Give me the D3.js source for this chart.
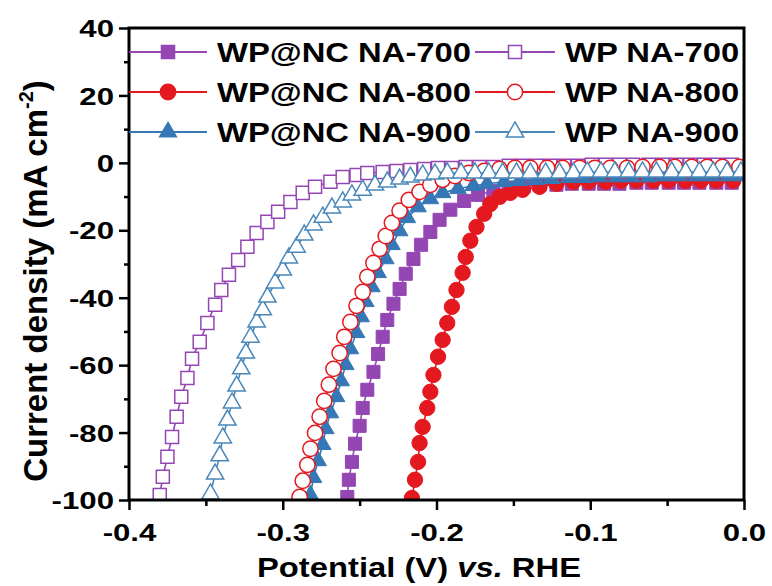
<!DOCTYPE html>
<html><head><meta charset="utf-8">
<script src="https://cdn.jsdelivr.net/npm/d3@7"></script>
<style>
body{margin:0;background:#fff}
text{font-family:"Liberation Sans",Arial,Helvetica,sans-serif;font-weight:bold;fill:#000}
</style>
</head><body>
<svg id="c" width="772" height="586"></svg>
<script>
// ---- data (Potential V vs. RHE, current density mA cm^-2) ----
const seriesNames = ["WP@NC NA-700","WP@NC NA-800","WP@NC NA-900","WP NA-700","WP NA-800","WP NA-900"];

const vWPNC700 = [-0.258,-0.257,-0.255,-0.253,-0.250,-0.248,-0.245,-0.241,-0.238,-0.235,-0.232,-0.228,-0.224,-0.220,-0.215,-0.210,-0.204,-0.198,-0.191,-0.182,-0.173,-0.163,-0.153,-0.143,-0.133,-0.122,-0.112,-0.101,-0.091,-0.081,-0.070,-0.060,-0.049,-0.039,-0.029,-0.018,-0.008];
const jWPNC700 = [-99.1,-94.0,-88.7,-83.3,-78.0,-72.7,-67.3,-62.0,-56.7,-51.6,-46.6,-41.8,-37.4,-32.9,-28.5,-24.3,-20.5,-16.9,-13.9,-11.3,-9.5,-8.3,-7.4,-6.8,-6.5,-6.5,-6.2,-6.2,-6.2,-6.2,-5.9,-5.9,-5.9,-5.9,-5.9,-5.9,-5.9];

const vWPNC800 = [-0.216,-0.214,-0.212,-0.211,-0.209,-0.206,-0.204,-0.202,-0.199,-0.196,-0.193,-0.190,-0.187,-0.183,-0.181,-0.178,-0.174,-0.169,-0.165,-0.159,-0.152,-0.144,-0.133,-0.122,-0.111,-0.101,-0.090,-0.080,-0.070,-0.059,-0.049,-0.038,-0.028,-0.018,-0.007];
const jWPNC800 = [-99.4,-94.0,-88.7,-83.1,-78.3,-72.7,-67.9,-62.9,-57.5,-52.5,-47.5,-42.7,-37.7,-32.6,-27.9,-23.1,-19.0,-15.1,-12.2,-10.1,-8.9,-8.0,-7.1,-6.2,-5.6,-5.6,-5.6,-5.3,-5.3,-5.3,-5.3,-5.3,-5.3,-5.3,-5.3];

const vWPNC900 = [-0.282,-0.280,-0.277,-0.274,-0.272,-0.269,-0.265,-0.262,-0.259,-0.256,-0.252,-0.249,-0.246,-0.242,-0.238,-0.233,-0.229,-0.224,-0.219,-0.212,-0.204,-0.196,-0.186,-0.176,-0.167,-0.156,-0.146,-0.135,-0.125,-0.114,-0.104,-0.094,-0.083,-0.073,-0.062,-0.052,-0.042,-0.031,-0.021,-0.010,0.000];
const jWPNC900 = [-98.5,-93.4,-88.4,-83.6,-78.9,-74.2,-69.4,-64.7,-59.9,-55.2,-50.4,-45.7,-41.2,-36.8,-32.6,-28.5,-24.3,-20.2,-16.3,-13.1,-10.7,-8.9,-7.7,-6.8,-6.2,-5.6,-5.3,-5.0,-4.7,-4.4,-4.4,-4.2,-4.2,-4.2,-4.2,-3.9,-3.9,-3.9,-3.9,-3.9,-3.9];

const vWP700 = [-0.380,-0.378,-0.375,-0.372,-0.369,-0.366,-0.362,-0.359,-0.354,-0.349,-0.344,-0.340,-0.335,-0.329,-0.323,-0.317,-0.310,-0.303,-0.295,-0.287,-0.279,-0.269,-0.261,-0.252,-0.245,-0.235,-0.226,-0.217,-0.208,-0.199,-0.190,-0.181,-0.172,-0.163,-0.153,-0.144,-0.135,-0.126,-0.117,-0.108,-0.099,-0.090,-0.081,-0.072,-0.062,-0.053,-0.044,-0.035,-0.026,-0.017,-0.008];
const jWP700 = [-98.5,-93.1,-87.2,-81.3,-75.3,-69.4,-63.8,-58.1,-53.1,-47.5,-42.1,-37.7,-33.2,-28.8,-24.9,-20.8,-17.5,-14.5,-11.6,-8.9,-7.1,-5.6,-4.2,-3.6,-3.0,-2.7,-2.4,-2.1,-1.8,-1.5,-1.5,-1.2,-1.2,-1.2,-0.9,-0.9,-0.9,-0.9,-0.9,-0.9,-0.6,-0.6,-0.6,-0.6,-0.6,-0.6,-0.6,-0.6,-0.6,-0.6,-0.6];

const vWP800 = [-0.289,-0.287,-0.284,-0.282,-0.279,-0.276,-0.273,-0.270,-0.267,-0.263,-0.260,-0.256,-0.252,-0.248,-0.245,-0.241,-0.237,-0.233,-0.229,-0.224,-0.218,-0.211,-0.204,-0.196,-0.188,-0.179,-0.169,-0.159,-0.149,-0.139,-0.128,-0.118,-0.107,-0.097,-0.087,-0.076,-0.066,-0.055,-0.045,-0.034,-0.024,-0.014,-0.003];
const jWP800 = [-99.1,-94.3,-89.6,-84.8,-80.1,-75.3,-70.6,-65.8,-61.1,-56.4,-51.6,-47.2,-42.4,-38.3,-33.8,-29.7,-25.5,-21.7,-17.8,-14.2,-11.0,-8.6,-6.5,-5.0,-3.9,-3.0,-2.4,-1.8,-1.5,-1.5,-1.5,-1.5,-1.5,-1.5,-1.5,-1.5,-1.2,-1.2,-1.2,-1.2,-1.2,-1.2,-1.2];

const vWP900 = [-0.347,-0.344,-0.341,-0.339,-0.336,-0.333,-0.330,-0.327,-0.324,-0.321,-0.317,-0.313,-0.310,-0.305,-0.300,-0.296,-0.291,-0.286,-0.280,-0.274,-0.268,-0.261,-0.255,-0.248,-0.240,-0.232,-0.224,-0.217,-0.209,-0.201,-0.193,-0.184,-0.175,-0.166,-0.157,-0.148,-0.139,-0.129,-0.120,-0.111,-0.102,-0.093,-0.084,-0.075,-0.066,-0.057,-0.047,-0.038,-0.029,-0.020,-0.011,-0.002];
const jWP900 = [-98.2,-92.3,-86.9,-81.6,-76.3,-71.2,-66.2,-61.1,-56.4,-51.7,-47.2,-43.6,-39.8,-35.6,-31.8,-28.2,-25.0,-21.4,-18.4,-16.1,-13.4,-11.6,-9.5,-8.1,-6.6,-5.7,-4.8,-4.2,-3.6,-3.3,-3.0,-3.0,-3.0,-3.0,-3.0,-3.0,-3.0,-3.0,-3.0,-3.0,-2.7,-2.7,-2.7,-2.7,-2.7,-2.7,-2.7,-2.7,-2.7,-2.7,-2.7,-2.7];

const xTicks = [-0.4,-0.3,-0.2,-0.1,0.0];
const xMinor = [-0.35,-0.25,-0.15,-0.05];
const yTicks = [40,20,0,-20,-40,-60,-80,-100];
const yMinor = [30,10,-10,-30,-50,-70,-90];

// ---- styles ----
const purple = "#9446b3", red = "#e4191f", blue = "#3677b6";
const series = [
  {v:vWPNC700, j:jWPNC700, color:purple, sym:d3.symbolSquare, size:170, filled:true},
  {v:vWPNC800, j:jWPNC800, color:red,    sym:d3.symbolCircle, size:185, filled:true},
  {v:vWPNC900, j:jWPNC900, color:blue,   sym:d3.symbolTriangle, size:120, filled:true},
  {v:vWP700,   j:jWP700,   color:purple, sym:d3.symbolSquare, size:170, filled:false},
  {v:vWP800,   j:jWP800,   color:red,    sym:d3.symbolCircle, size:185, filled:false},
  {v:vWP900,   j:jWP900,   color:"#4a88ba", sym:d3.symbolTriangle, size:130, filled:false}
];

const svg = d3.select("#c");
const L=129, R=744, T=28, B=500;
const x = d3.scaleLinear().domain([-0.4,0]).range([L,R]);
const y = d3.scaleLinear().domain([-100,40]).range([B,T]);

svg.append("defs").append("clipPath").attr("id","clip")
  .append("rect").attr("x",L).attr("y",T).attr("width",R-L).attr("height",B-T);

const plot = svg.append("g").attr("clip-path","url(#clip)");
const line = d3.line().x(d=>x(d[0])).y(d=>y(d[1]));

series.forEach((s,i)=>{
  const pts = s.v.map((v,k)=>[v,s.j[k]]);
  const g = plot.append("g");
  g.append("path").datum(pts).attr("d",line).attr("fill","none")
    .attr("stroke",s.color).attr("stroke-width",1.6);
  g.selectAll("path.m").data(pts).join("path").attr("class","m")
    .attr("transform",d=>`translate(${x(d[0])},${y(d[1])})`)
    .attr("d",d3.symbol(s.sym,s.size)())
    .attr("fill",s.filled?s.color:"#fff")
    .attr("stroke",s.color).attr("stroke-width",s.filled?1:1.5);
});

// ---- axes ----
const gy = svg.append("g").attr("transform",`translate(${L},0)`)
  .call(d3.axisLeft(y).tickValues(yTicks).tickSize(10).tickFormat(d=>String(d)));
const gyMinor = svg.append("g").attr("transform",`translate(${L},0)`)
  .call(d3.axisLeft(y).tickValues(yMinor).tickSize(5).tickFormat(""));
const gx = svg.append("g").attr("transform",`translate(0,${B})`)
  .call(d3.axisBottom(x).tickValues(xTicks).tickSize(10).tickFormat(d=>d.toFixed(1)));
const gxMinor = svg.append("g").attr("transform",`translate(0,${B})`)
  .call(d3.axisBottom(x).tickValues(xMinor).tickSize(6).tickFormat(""));

[gy,gyMinor,gx,gxMinor].forEach(g=>{
  g.select(".domain").remove();
  g.selectAll(".tick line").attr("stroke","#000").attr("stroke-width",2.5);
});
gy.selectAll(".tick text").attr("x",0).attr("dy","0.36em")
  .attr("font-size",24).attr("text-anchor","end")
  .attr("transform","translate(-15,0) scale(1.3,1)");
gx.selectAll(".tick text").attr("y",0).attr("dy",0)
  .attr("font-size",24).attr("text-anchor","middle")
  .attr("transform","translate(0,41) scale(1.3,1)");
svg.selectAll(".tick text").attr("font-family",null).style("font-weight","bold");

// frame
svg.append("rect").attr("x",L).attr("y",T).attr("width",R-L).attr("height",B-T)
  .attr("fill","none").attr("stroke","#000").attr("stroke-width",3);

// ---- legend ----
series.forEach((s,i)=>{
  const col = i<3?0:1, row = i%3;
  const ly = 52 + row*40;
  const x0 = col===0?129:475, x1 = col===0?207:555, mx = (x0+x1)/2, tx = col===0?217:565;
  svg.append("line").attr("x1",x0).attr("x2",x1).attr("y1",ly).attr("y2",ly)
    .attr("stroke",s.color).attr("stroke-width",2.2);
  svg.append("path").attr("transform",`translate(${mx},${ly})`)
    .attr("d",d3.symbol(s.sym,s.size)())
    .attr("fill",s.filled?s.color:"#fff").attr("stroke",s.color).attr("stroke-width",1.5);
  svg.append("text").attr("transform",`translate(${tx},${ly+10}) scale(1.17,1)`)
    .attr("font-size",28).text(seriesNames[i]);
});

// ---- axis titles ----
const xt = svg.append("text").attr("transform","translate(419,577) scale(1.17,1)")
  .attr("font-size",28).attr("text-anchor","middle");
xt.append("tspan").text("Potential (V) ");
xt.append("tspan").attr("font-style","italic").text("vs.");
xt.append("tspan").text(" RHE");

const yt = svg.append("text").attr("transform","translate(47,281) rotate(-90)")
  .attr("font-size",33).attr("text-anchor","middle");
yt.append("tspan").text("Current density (mA cm");
yt.append("tspan").attr("font-size",20).attr("dy",-14).text("-2");
yt.append("tspan").attr("dy",14).text(")");
</script>
</body></html>
